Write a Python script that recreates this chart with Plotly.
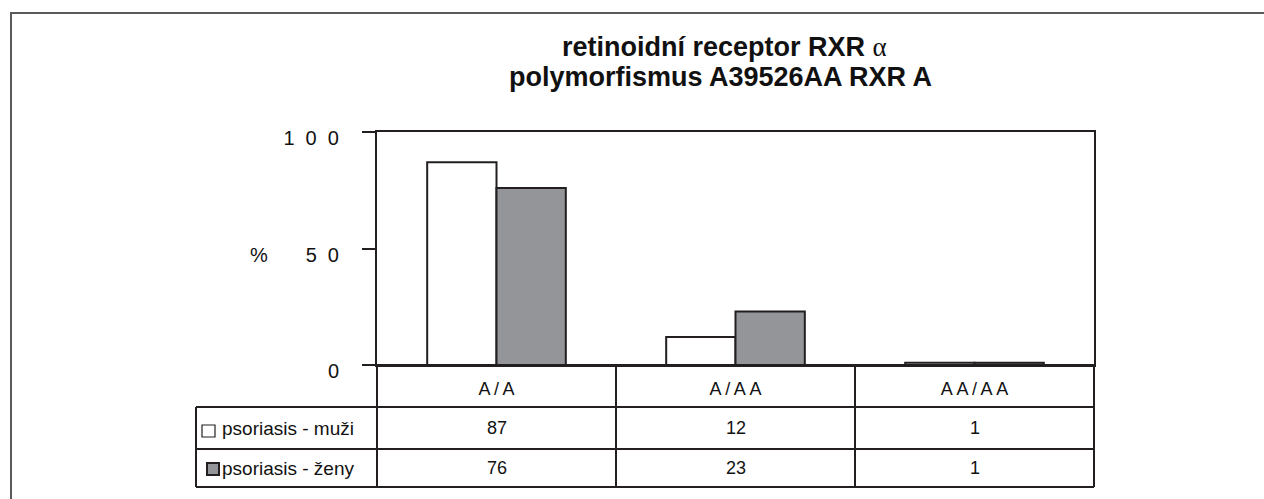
import plotly.graph_objects as go

# ---- data ----
categories = ["A/A", "A/AA", "AA/AA"]
series_names = ["psoriasis - muži", "psoriasis - ženy"]
men = [87, 12, 1]
women = [76, 23, 1]
y_ticks = [0, 50, 100]
title_line1 = "retinoidní receptor RXR"
title_greek = "α"
title_line2 = "polymorfismus A39526AA RXR A"
y_label = "%"

# ---- geometry (pixels) ----
W, H = 1264, 499
L, R, T, B = 377, 1094, 132, 365
DARK = "#231f20"
GRAY = "#939598"
FONT = "Liberation Sans, Arial, sans-serif"


def fx(px):
    return (px - L) / (R - L)


def fy(py):
    return (B - py) / (B - T)


def spaced(s, sep):
    return sep.join(list(s))


fig = go.Figure()
fig.add_trace(go.Bar(x=categories, y=men, name=series_names[0],
                     marker=dict(color="white", line=dict(color=DARK, width=2))))
fig.add_trace(go.Bar(x=categories, y=women, name=series_names[1],
                     marker=dict(color=GRAY, line=dict(color=DARK, width=2))))

# table rows (pixel y)
row_top = [B, 407, 449]
row_bot = [407, 449, 487]
leg_left = 196

shapes = []
line_style = dict(color=DARK, width=2)
for py in [407, 449, 487]:
    shapes.append(dict(type="line", xref="paper", yref="paper", x0=fx(leg_left), x1=fx(R),
                       y0=fy(py), y1=fy(py), line=line_style))
shapes.append(dict(type="line", xref="paper", yref="paper", x0=fx(L), x1=fx(R),
                   y0=fy(B), y1=fy(B), line=line_style))
n = len(categories)
for i in range(n + 1):
    px = L + i * (R - L) / n
    shapes.append(dict(type="line", xref="paper", yref="paper", x0=fx(px), x1=fx(px),
                       y0=fy(B), y1=fy(487), line=line_style))
shapes.append(dict(type="line", xref="paper", yref="paper", x0=fx(leg_left), x1=fx(leg_left),
                   y0=fy(407), y1=fy(487), line=line_style))
# legend squares
shapes.append(dict(type="rect", xref="paper", yref="paper", x0=fx(202), x1=fx(215),
                   y0=fy(437), y1=fy(425), fillcolor="white", line=dict(color=DARK, width=1.2)))
shapes.append(dict(type="rect", xref="paper", yref="paper", x0=fx(207), x1=fx(219),
                   y0=fy(475), y1=fy(463), fillcolor=GRAY, line=dict(color=DARK, width=2)))
# outer frame
shapes.append(dict(type="rect", xref="paper", yref="paper", x0=fx(11), x1=fx(1400),
                   y0=fy(600), y1=fy(13), line=dict(color="#5a5a5a", width=2)))

annotations = []
row_centers = [(row_top[1] + row_bot[1]) / 2, (row_top[2] + row_bot[2]) / 2]
for vals, yc in zip([men, women], row_centers):
    for c, v in zip(categories, vals):
        annotations.append(dict(x=c, xref="x", y=fy(yc), yref="paper", text=str(v),
                                showarrow=False, font=dict(size=18, color="#111", family=FONT),
                                xanchor="center", yanchor="middle"))
for name, yc in zip(series_names, row_centers):
    annotations.append(dict(x=fx(220), xref="paper", y=fy(yc), yref="paper", text=name,
                            showarrow=False, font=dict(size=19, color="#111", family=FONT),
                            xanchor="left", yanchor="middle"))
annotations.append(dict(x=fx(259), xref="paper", y=fy(255), yref="paper", text=y_label,
                        showarrow=False, font=dict(size=20, color="#111", family=FONT),
                        xanchor="center", yanchor="middle"))
# title lines
annotations.append(dict(x=fx(724), xref="paper", y=fy(47), yref="paper",
                        text="<b>" + title_line1 + "</b> <span style=\"font-family:'Liberation Serif', serif\">"
                             + title_greek + "</span>",
                        showarrow=False, font=dict(size=27, color="#111", family=FONT),
                        xanchor="center", yanchor="middle"))
annotations.append(dict(x=fx(720), xref="paper", y=fy(77), yref="paper",
                        text="<b>" + title_line2 + "</b>",
                        showarrow=False, font=dict(size=27, color="#111", family=FONT),
                        xanchor="center", yanchor="middle"))

fig.update_layout(
    width=W, height=H,
    margin=dict(l=L, r=W - R, t=T, b=H - B, pad=0),
    paper_bgcolor="white", plot_bgcolor="white",
    barmode="group", bargap=0.42, bargroupgap=0,
    showlegend=False,
    font=dict(family=FONT, color="#111"),
    shapes=shapes, annotations=annotations,
    xaxis=dict(type="category", categoryorder="array", categoryarray=categories,
               range=[-0.5, n - 0.5], showgrid=False, zeroline=False,
               showline=True, linecolor=DARK, linewidth=2, mirror=True,
               ticks="", tickvals=categories,
               ticktext=[spaced(c, "\u2009") for c in categories],
               tickfont=dict(size=18, color="#111", family=FONT),
               ticklabelstandoff=6),
    yaxis=dict(range=[0, 100], tickvals=y_ticks,
               ticktext=[spaced(str(t), "\u2007") for t in y_ticks],
               ticks="outside", ticklen=13, tickwidth=2, tickcolor=DARK,
               showline=True, linecolor=DARK, linewidth=2, mirror=True,
               showgrid=False, zeroline=False,
               tickfont=dict(size=20, color="#111", family=FONT),
               ticklabelstandoff=19, ticklabelshift=6),
)

fig.write_html("out.html", config={"displayModeBar": False},
               post_script="document.body.style.margin='0';document.body.style.overflow='hidden';")
